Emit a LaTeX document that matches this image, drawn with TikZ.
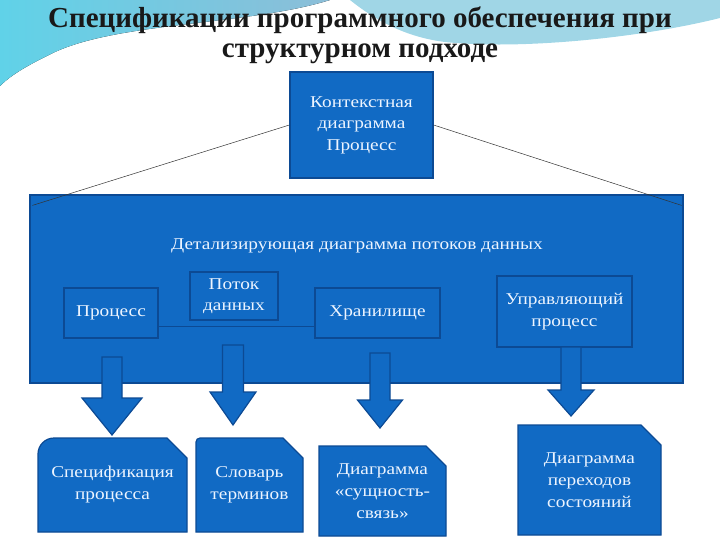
\documentclass[tikz,border=0pt]{standalone}
\usepackage{fontspec}
\setmainfont{Liberation Serif}
\newfontfamily\boxfont[FakeStretch=1.17]{Liberation Serif}
\usetikzlibrary{positioning}

\definecolor{boxblue}{RGB}{17,106,196}
\definecolor{edgeblue}{RGB}{12,74,148}
\definecolor{boxtextcol}{RGB}{236,244,255}
\definecolor{wavecyan}{RGB}{96,210,232}
\definecolor{wavesteel}{RGB}{140,190,216}
\definecolor{waveband}{RGB}{160,214,230}

\tikzstyle{bluebox} = [
    rectangle,
    fill=boxblue,
    draw=edgeblue,
    line width=1.2pt,
    text=boxtextcol,
    align=center,
    inner sep=1pt,
    font=\boxfont\fontsize{16.5}{21.5}\selectfont
]
\tikzstyle{boxtext} = [
    text=boxtextcol,
    align=center,
    font=\boxfont\fontsize{16.5}{22}\selectfont
]
\tikzstyle{titletext} = [
    align=center,
    text=black!90,
    font=\bfseries\fontsize{29}{30}\selectfont
]
\tikzstyle{thinline} = [black!80, line width=0.5pt]
\tikzstyle{snip} = [fill=boxblue, draw=edgeblue, line width=1.2pt]

% block arrow: x, top, neck, tip, shaft half width, head half width
\newcommand{\blockarrow}[6]{%
  \filldraw[snip, line join=miter]
    ({#1-#5},#2) -- ({#1+#5},#2) -- ({#1+#5},#3) -- ({#1+#6},#3)
    -- (#1,#4) -- ({#1-#6},#3) -- ({#1-#5},#3) -- cycle;}

% document box with cut corner: name, x1, y1, x2, y2, corner radius, text
\newcommand{\snipbox}[7]{%
  \filldraw[snip] (#2,#5) -- (#2,{#3+#6})
    .. controls (#2,{#3+0.45*#6}) and ({#2+0.45*#6},#3) .. ({#2+#6},#3)
    -- ({#4-20},#3) -- (#4,{#3+20}) -- (#4,#5) -- cycle;
  \node (#1) [boxtext] at ({(#2+#4)/2},{(#3+#5)/2}) {#7};}

\begin{document}
\begin{tikzpicture}[x=1pt, y=-1pt]

\useasboundingbox (0,0) rectangle (720,540);

% background waves
\fill[left color=wavecyan, right color=wavesteel]
    (0,0) -- (330,0) .. controls (250,25) and (120,22) .. (55,52)
    .. controls (30,64) and (12,74) .. (0,86) -- cycle;
\fill[waveband]
    (350,0) -- (720,0) -- (720,18) .. controls (640,38) and (520,50) .. (445,42)
    .. controls (405,37) and (375,20) .. cycle;

% title
\node (title) [titletext] at (360,35)
{Спецификации программного обеспечения при\\структурном подходе};

\node (context) [bluebox, minimum width=143, minimum height=106] at (361.5,125)
{Контекстная\\диаграмма\\Процесс};

\node (detail) [bluebox, minimum width=653, minimum height=188] at (356.5,289) {};

\node (detailtitle) [boxtext] at (357,246)
{Детализирующая диаграмма потоков данных};

\coordinate (leftend) at ([xshift=3pt,yshift=-11pt]detail.north west);
\coordinate (rightend) at ([xshift=-2pt,yshift=-11pt]detail.north east);
\draw [thinline] (context.west) -- (leftend);
\draw [thinline] (context.east) -- (rightend);

\node (process) [bluebox, minimum width=94, minimum height=50] at (111,313)
{Процесс};
\node (flow) [bluebox, minimum width=88, minimum height=48] at (234,296)
{Поток\\данных};
\node (store) [bluebox, minimum width=125, minimum height=50] at (377.5,313)
{Хранилище};
\node (control) [bluebox, minimum width=135, minimum height=71] at (564.5,311.5)
{Управляющий\\процесс};

\draw [edgeblue, line width=0.8pt]
    ([yshift=-13pt]process.east) -- ([yshift=-13pt]store.west);

% arrows down
\blockarrow{112}{357}{398}{435}{10}{30}
\blockarrow{233}{345}{392}{425}{10.5}{23}
\blockarrow{380}{353}{400}{428}{10}{22.5}
\blockarrow{571}{347}{390}{416}{10}{23}

% result documents
\snipbox{procspec}{38}{438}{187}{532}{16}{Спецификация\\процесса}
\snipbox{glossary}{196}{438}{303}{532}{4}{Словарь\\терминов}
\snipbox{erdiagram}{319}{446}{446}{536}{0}{Диаграмма\\«сущность-\\связь»}
\snipbox{statediagram}{518}{425}{661}{535}{0}{Диаграмма\\переходов\\состояний}

\end{tikzpicture}
\end{document}
